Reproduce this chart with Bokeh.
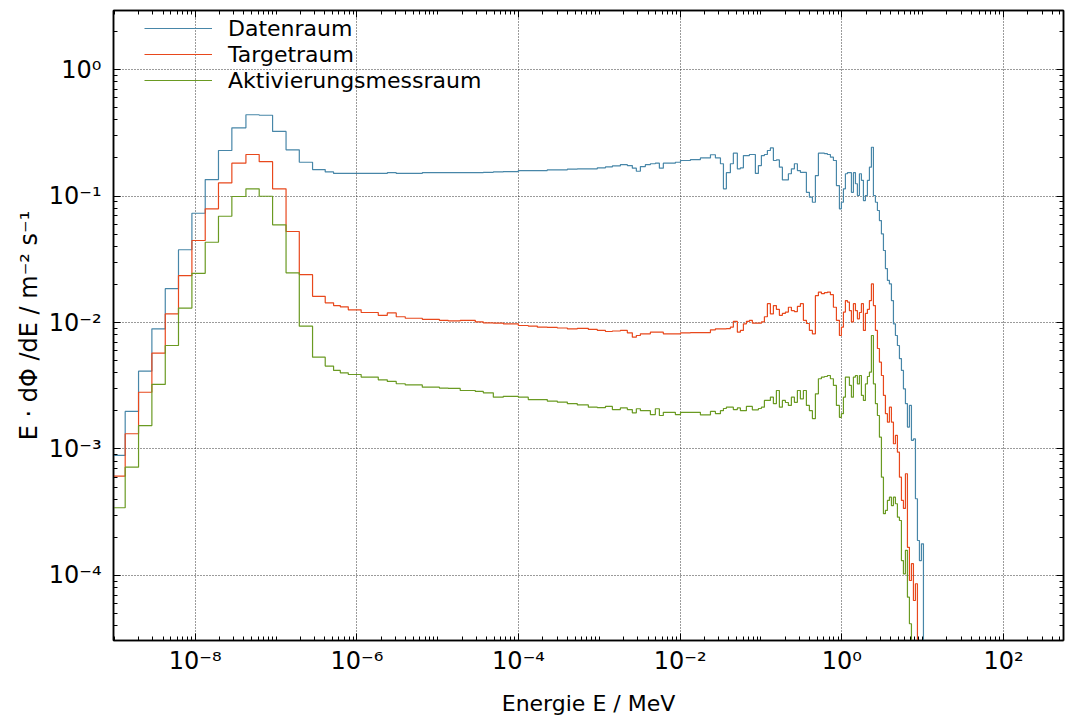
from bokeh.plotting import figure
from bokeh.models import LogAxis, FixedTicker, Legend, LegendItem, CustomJSTickFormatter
from bokeh.embed import file_html
from bokeh.resources import INLINE

# ---------------- data ----------------
# common bin edges of the energy histogram (MeV)
energy_edges = [
    9.3e-10, 1.36e-9, 1.99e-9, 2.91e-9, 4.26e-9, 6.21e-9, 9.10e-9, 1.33e-8, 1.94e-8, 2.84e-8,
    4.24e-8, 6.19e-8, 9.06e-8, 1.33e-7, 1.94e-7, 2.83e-7, 4.06e-7, 5.15e-7, 6.24e-7,
    7.83e-7, 1.13e-6, 1.84e-6, 2.38e-6, 3.07e-6, 3.97e-6, 6.45e-6, 1.05e-5, 1.35e-5, 1.90e-5,
    2.92e-5, 3.67e-5, 4.88e-5, 6.48e-5, 9.95e-5, 1.32e-4, 1.71e-4, 2.27e-4, 3.02e-4, 4.02e-4,
    5.34e-4, 7.31e-4, 9.44e-4, 1.19e-3, 1.45e-3, 1.82e-3, 2.22e-3, 2.56e-3, 2.87e-3, 3.22e-3,
    3.71e-3, 4.28e-3, 4.93e-3, 5.53e-3, 6.19e-3, 7.56e-3, 8.72e-3, 1.01e-2, 1.34e-2, 1.78e-2,
    2.37e-2, 2.73e-2, 3.15e-2, 3.43e-2, 3.73e-2, 4.18e-2, 4.55e-2, 5.10e-2, 5.56e-2,
    0.0606, 0.0660, 0.0719, 0.0782, 0.0852, 0.0929, 0.1012, 0.1102, 0.1200, 0.1307, 0.1424,
    0.1551, 0.1689, 0.1840, 0.2004, 0.2183, 0.2378, 0.2590, 0.2821, 0.3073, 0.3347, 0.3646,
    0.3972, 0.4326, 0.4712, 0.5133, 0.5591, 0.6090, 0.6634, 0.7227, 0.7872, 0.8574, 0.9339,
    0.9886, 1.047, 1.108, 1.173, 1.242, 1.315, 1.392, 1.474, 1.560, 1.652, 1.748, 1.851, 1.959,
    2.074, 2.196, 2.324, 2.461, 2.605, 2.758, 2.920, 3.091, 3.273, 3.464, 3.667, 3.882, 4.110,
    4.351, 4.606, 4.876, 5.163, 5.465, 5.786, 6.125, 6.484, 6.864, 7.267, 7.693, 8.144, 8.622,
    9.127, 9.663, 10.23, 10.83,
    600.0,
]

datenraum = [
    8.89e-4, 1.98e-3, 4.12e-3, 8.91e-3, 1.85e-2, 3.76e-2, 7.31e-2, 0.135, 0.229, 0.346,
    0.439, 0.435, 0.324, 0.232, 0.185, 0.162, 0.155, 0.151,
    0.151, 0.151, 0.151, 0.151, 0.153, 0.151, 0.151, 0.153, 0.153, 0.153,
    0.153, 0.153, 0.154, 0.155, 0.156, 0.159, 0.159, 0.159, 0.161, 0.161,
    0.163, 0.164, 0.164, 0.167, 0.170, 0.173, 0.177, 0.174, 0.166, 0.157,
    0.171, 0.177, 0.180, 0.182, 0.166, 0.182, 0.182, 0.185, 0.191, 0.194,
    0.200, 0.212, 0.200, 0.180, 0.114, 0.153, 0.180, 0.218, 0.164,
    0.167, 0.209, 0.209, 0.213, 0.213, 0.151, 0.174, 0.209, 0.213, 0.229,
    0.240, 0.191, 0.193, 0.169, 0.134, 0.134, 0.150, 0.164, 0.180, 0.159,
    0.154, 0.154, 0.107, 0.0979, 0.0893, 0.145, 0.218, 0.218, 0.216, 0.213,
    0.203, 0.191, 0.121,
    0.0792, 0.0893, 0.114, 0.150, 0.153, 0.153, 0.107, 0.153, 0.125, 0.101,
    0.150, 0.133, 0.0921, 0.101, 0.133, 0.169, 0.243, 0.101, 0.0893, 0.0768,
    0.0640, 0.0502, 0.0371, 0.0267, 0.0215, 0.0202, 0.0149, 0.00977, 0.00789, 0.00658,
    0.00519, 0.00418, 0.00299, 0.00228, 0.00149, 0.00221, 0.00117, 0.00120, 4.04e-4, 1.89e-4,
    1.31e-4, 1.78e-4, 0.0,
    0.0,
]

targetraum = [
    6.10e-4, 1.32e-3, 2.81e-3, 5.72e-3, 1.17e-2, 2.35e-2, 4.45e-2, 7.92e-2, 0.127, 0.182,
    0.213, 0.187, 0.114, 5.24e-2, 2.39e-2, 1.61e-2, 1.43e-2, 1.36e-2,
    1.33e-2, 1.26e-2, 1.20e-2, 1.14e-2, 1.19e-2, 1.11e-2, 1.08e-2, 1.06e-2, 1.04e-2, 1.03e-2,
    1.04e-2, 1.01e-2, 9.95e-3, 9.90e-3, 9.77e-3, 9.47e-3, 9.37e-3, 9.18e-3, 9.14e-3, 9.05e-3,
    8.91e-3, 9.00e-3, 8.81e-3, 8.65e-3, 8.49e-3, 8.57e-3, 8.65e-3, 8.29e-3, 7.65e-3, 7.89e-3,
    8.14e-3, 8.14e-3, 8.38e-3, 8.38e-3, 8.38e-3, 8.14e-3, 8.14e-3, 8.14e-3, 8.29e-3, 8.33e-3,
    8.33e-3, 8.75e-3, 8.91e-3, 8.91e-3, 8.91e-3, 8.96e-3, 9.18e-3, 1.02e-2, 8.38e-3,
    8.65e-3, 9.77e-3, 1.02e-2, 1.04e-2, 9.87e-3, 9.87e-3, 9.87e-3, 1.01e-2, 1.11e-2, 1.41e-2,
    1.17e-2, 1.36e-2, 1.27e-2, 1.14e-2, 1.18e-2, 1.21e-2, 1.32e-2, 1.24e-2, 1.22e-2, 1.34e-2,
    1.41e-2, 1.04e-2, 9.82e-3, 8.65e-3, 8.14e-3, 1.63e-2, 1.74e-2, 1.69e-2, 1.72e-2, 1.74e-2,
    1.66e-2, 1.32e-2, 1.04e-2,
    7.89e-3, 9.18e-3, 1.21e-2, 1.49e-2, 1.45e-2, 1.24e-2, 1.01e-2, 1.41e-2, 1.24e-2, 1.07e-2,
    1.20e-2, 1.41e-2, 8.65e-3, 1.18e-2, 1.27e-2, 1.49e-2, 2.02e-2, 1.36e-2, 8.65e-3, 6.23e-3,
    4.86e-3, 3.81e-3, 2.65e-3, 1.90e-3, 1.63e-3, 2.14e-3, 1.63e-3, 1.10e-3, 1.28e-3, 9.44e-4,
    5.98e-4, 3.92e-4, 3.39e-4, 6.37e-4, 1.67e-4, 9.12e-5, 1.24e-4, 6.34e-5, 8.60e-5, 0.0,
    0.0, 0.0, 0.0,
    0.0,
]

aktivierungsmessraum = [
    3.43e-4, 7.18e-4, 1.53e-3, 3.24e-3, 6.58e-3, 1.30e-2, 2.45e-2, 4.31e-2, 6.92e-2, 9.91e-2,
    0.114, 9.96e-2, 5.92e-2, 2.47e-2, 9.35e-3, 5.32e-3, 4.52e-3, 4.18e-3,
    4.00e-3, 3.88e-3, 3.70e-3, 3.52e-3, 3.42e-3, 3.28e-3, 3.21e-3, 3.08e-3, 3.03e-3, 3.01e-3,
    2.90e-3, 2.85e-3, 2.78e-3, 2.57e-3, 2.61e-3, 2.57e-3, 2.46e-3, 2.46e-3, 2.39e-3, 2.35e-3,
    2.28e-3, 2.23e-3, 2.14e-3, 2.12e-3, 2.17e-3, 2.05e-3, 2.11e-3, 2.05e-3, 1.93e-3, 2.08e-3,
    2.01e-3, 2.01e-3, 1.87e-3, 2.08e-3, 1.84e-3, 1.95e-3, 1.95e-3, 1.87e-3, 1.95e-3, 1.95e-3,
    1.86e-3, 1.98e-3, 1.90e-3, 2.01e-3, 2.09e-3, 2.14e-3, 2.14e-3, 2.05e-3, 2.11e-3,
    2.01e-3, 2.01e-3, 2.17e-3, 2.17e-3, 2.04e-3, 2.04e-3, 2.09e-3, 2.14e-3, 2.42e-3, 2.42e-3,
    2.57e-3, 2.28e-3, 2.90e-3, 2.14e-3, 2.42e-3, 2.33e-3, 2.21e-3, 2.57e-3, 2.34e-3, 2.90e-3,
    2.49e-3, 2.90e-3, 2.21e-3, 2.01e-3, 1.74e-3, 2.73e-3, 3.59e-3, 3.70e-3, 3.74e-3, 3.81e-3,
    3.59e-3, 3.18e-3, 2.21e-3,
    1.78e-3, 1.90e-3, 2.57e-3, 3.70e-3, 3.70e-3, 3.18e-3, 2.57e-3, 3.70e-3, 3.81e-3, 3.27e-3,
    3.81e-3, 2.65e-3, 2.42e-3, 3.27e-3, 3.74e-3, 4.05e-3, 7.89e-3, 3.27e-3, 2.28e-3, 1.84e-3,
    1.24e-3, 5.98e-4, 3.08e-4, 3.27e-4, 3.92e-4, 4.16e-4, 3.57e-4, 4.16e-4, 3.69e-4, 2.89e-4,
    2.72e-4, 1.31e-4, 1.03e-4, 1.58e-4, 6.73e-5, 4.15e-5, 0.0, 0.0, 0.0, 0.0,
    0.0, 0.0, 0.0,
    0.0,
]

series_names = ["Datenraum", "Targetraum", "Aktivierungsmessraum"]
series_colors = ["#4786a8", "#e8481c", "#6a9a22"]

x_major_ticks = [1e-8, 1e-6, 1e-4, 1e-2, 1e0, 1e2]
y_major_ticks = [1e-4, 1e-3, 1e-2, 1e-1, 1e0]

x_label = "Energie E / MeV"
y_label = "E · dΦ /dE / m⁻² s⁻¹"

# ---------------- figure ----------------
X_RANGE = (9.75e-10, 553.0)
Y_RANGE = (3.06e-5, 2.93)
FONT = "DejaVu Sans"

for s in (datenraum, targetraum, aktivierungsmessraum):
    assert len(s) == len(energy_edges) - 1, (len(s), len(energy_edges))

p = figure(width=1065, height=720, x_axis_type="log", y_axis_type="log",
           x_range=X_RANGE, y_range=Y_RANGE, output_backend="svg",
           toolbar_location=None, min_border_left=113, min_border_right=2,
           min_border_top=10, min_border_bottom=80,
           background_fill_color="white", border_fill_color="white")

bottom_axis = p.below[0]
left_axis = p.left[0]

x_minor = []
for n in range(-10, 3):
    for k in range(1, 10):
        if k == 1 and n % 2 == 0:
            continue
        x_minor.append(k * 10.0 ** n)
y_minor = [k * 10.0 ** n for n in range(-6, 2) for k in range(2, 10)]

xt = FixedTicker(ticks=x_major_ticks, minor_ticks=x_minor)
yt = FixedTicker(ticks=y_major_ticks, minor_ticks=y_minor)

sup_code = """
const sup = {'-':'\u207b','0':'\u2070','1':'\u00b9','2':'\u00b2','3':'\u00b3','4':'\u2074',
             '5':'\u2075','6':'\u2076','7':'\u2077','8':'\u2078','9':'\u2079'};
const e = Math.round(Math.log10(tick));
return '10' + String(e).split('').map(c => sup[c]).join('');
"""

bottom_axis.ticker = xt
left_axis.ticker = yt
bottom_axis.formatter = CustomJSTickFormatter(code=sup_code)
left_axis.formatter = CustomJSTickFormatter(code=sup_code)
bottom_axis.axis_label = x_label
left_axis.axis_label = y_label

top_axis = LogAxis(ticker=xt, formatter=CustomJSTickFormatter(code="return ''"))
right_axis = LogAxis(ticker=yt, formatter=CustomJSTickFormatter(code="return ''"))
p.add_layout(top_axis, "above")
p.add_layout(right_axis, "right")

for ax in (bottom_axis, left_axis, top_axis, right_axis):
    ax.axis_line_color = "black"
    ax.axis_line_width = 1.5
    ax.major_tick_in = 7
    ax.major_tick_out = 0
    ax.minor_tick_in = 4
    ax.minor_tick_out = 0
    ax.major_tick_line_color = "black"
    ax.minor_tick_line_color = "black"
    ax.major_label_text_font = FONT
    ax.major_label_text_font_size = "24px"
    ax.major_label_text_color = "black"
    ax.axis_label_text_font = FONT
    ax.axis_label_text_font_size = "22px"
    ax.axis_label_text_font_style = "normal"
    ax.axis_label_text_color = "black"

for ax in (top_axis, right_axis):
    ax.major_label_standoff = 0
    ax.major_label_text_font_size = "1px"

left_axis.axis_label_text_font_size = "24px"
bottom_axis.major_label_standoff = 6
left_axis.major_label_standoff = 12
bottom_axis.axis_label_standoff = 13
left_axis.axis_label_standoff = 3

p.xgrid.ticker = FixedTicker(ticks=x_major_ticks)
p.ygrid.ticker = FixedTicker(ticks=y_major_ticks)
for g in (p.xgrid, p.ygrid):
    g.grid_line_color = "#222222"
    g.grid_line_alpha = 0.9
    g.grid_line_dash = "1 2"
    g.grid_line_width = 1
    g.minor_grid_line_color = None

p.outline_line_color = "black"
p.outline_line_width = 1.5

items = []
for name, vals, color in zip(series_names, (datenraum, targetraum, aktivierungsmessraum), series_colors):
    yv = [v if v > Y_RANGE[0] else Y_RANGE[0] for v in vals]
    yv = yv + [yv[-1]]
    r = p.step(x=energy_edges, y=yv, mode="after", line_color=color, line_width=1.2)
    items.append(LegendItem(label=name, renderers=[r]))

legend = Legend(items=items, location=(31, 547), padding=0, margin=0, spacing=0,
                glyph_width=68, glyph_height=26, label_height=26, label_standoff=16,
                label_text_font=FONT, label_text_font_size="22px", label_text_color="black",
                border_line_color=None, background_fill_alpha=0)
p.add_layout(legend)

open("out.html", "w").write(file_html(p, INLINE))
